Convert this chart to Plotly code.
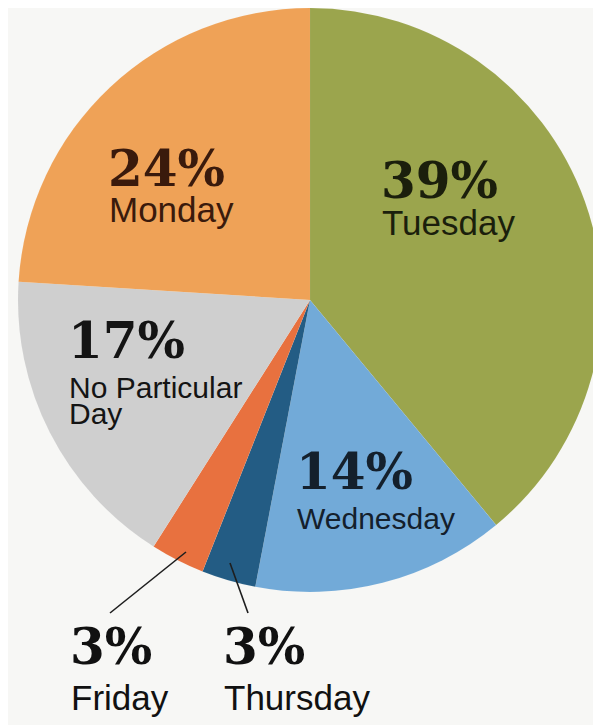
import plotly.graph_objects as go

# ---- data (clockwise from 12 o'clock) ----
labels = ["Tuesday", "Wednesday", "Thursday", "Friday", "No Particular Day", "Monday"]
values = [39, 14, 3, 3, 17, 24]
name_lines = [["Tuesday"], ["Wednesday"], ["Thursday"], ["Friday"], ["No Particular", "Day"], ["Monday"]]

# ---- styles ----
colors = ["#9ba54d", "#72aad8", "#235c84", "#e8713f", "#cfcfcf", "#efa257"]
text_colors = ["#1b1f0c", "#14202c", "#111111", "#111111", "#141414", "#3a1a0c"]

W, H = 601, 725
OFF = 8  # page body margin of the browser
BG = "#f7f7f5"

# label layout in window pixels: (left x, pct center y, first name line center y, name font size, line gap)
label_pos = {
    "Tuesday": (379, 181, 223, 35, 0),
    "Wednesday": (294, 471, 518, 30, 0),
    "Thursday": (221, 646, 697, 35, 0),
    "Friday": (68, 646, 697, 35, 0),
    "No Particular Day": (66, 341, 387, 30, 26),
    "Monday": (106, 168, 210, 35, 0),
}

def px(x):
    return (x - OFF) / W

def py(y):
    return 1 - (y - OFF) / H

fig = go.Figure()
fig.add_trace(go.Pie(
    labels=labels,
    values=values,
    sort=False,
    direction="clockwise",
    rotation=0,
    marker=dict(colors=colors, line=dict(color="rgba(255,255,255,0.15)", width=0.3)),
    textinfo="none",
    hoverinfo="label+percent",
    showlegend=False,
    domain=dict(x=[px(18), px(602)], y=[py(592), 1.0]),
))

pct_font = "DejaVu Serif"
name_font = "Liberation Sans, Arial, Helvetica, sans-serif"

annotations = []
for lab, val, lines, tc in zip(labels, values, name_lines, text_colors):
    x0, ypct, yname, fs, gap = label_pos[lab]
    annotations.append(dict(
        x=px(x0), y=py(ypct), xref="paper", yref="paper",
        xanchor="left", yanchor="middle", showarrow=False,
        text=f"<b>{val}%</b>",
        font=dict(family=pct_font, size=50, color=tc),
    ))
    for i, line in enumerate(lines):
        annotations.append(dict(
            x=px(x0 + 1), y=py(yname + i * gap), xref="paper", yref="paper",
            xanchor="left", yanchor="middle", showarrow=False,
            text=line,
            font=dict(family=name_font, size=fs, color=tc),
        ))

# leader lines for the two thin slices
shapes = [
    dict(type="line", xref="paper", yref="paper",
         x0=px(186), y0=py(552), x1=px(110), y1=py(613),
         line=dict(color="#1e1e1e", width=1.6)),
    dict(type="line", xref="paper", yref="paper",
         x0=px(230), y0=py(563), x1=px(248), y1=py(613),
         line=dict(color="#1e1e1e", width=1.6)),
]

fig.update_layout(
    width=W, height=H,
    margin=dict(l=0, r=0, t=0, b=0),
    paper_bgcolor=BG, plot_bgcolor=BG,
    annotations=annotations,
    shapes=shapes,
)

fig.write_html("out.html")
